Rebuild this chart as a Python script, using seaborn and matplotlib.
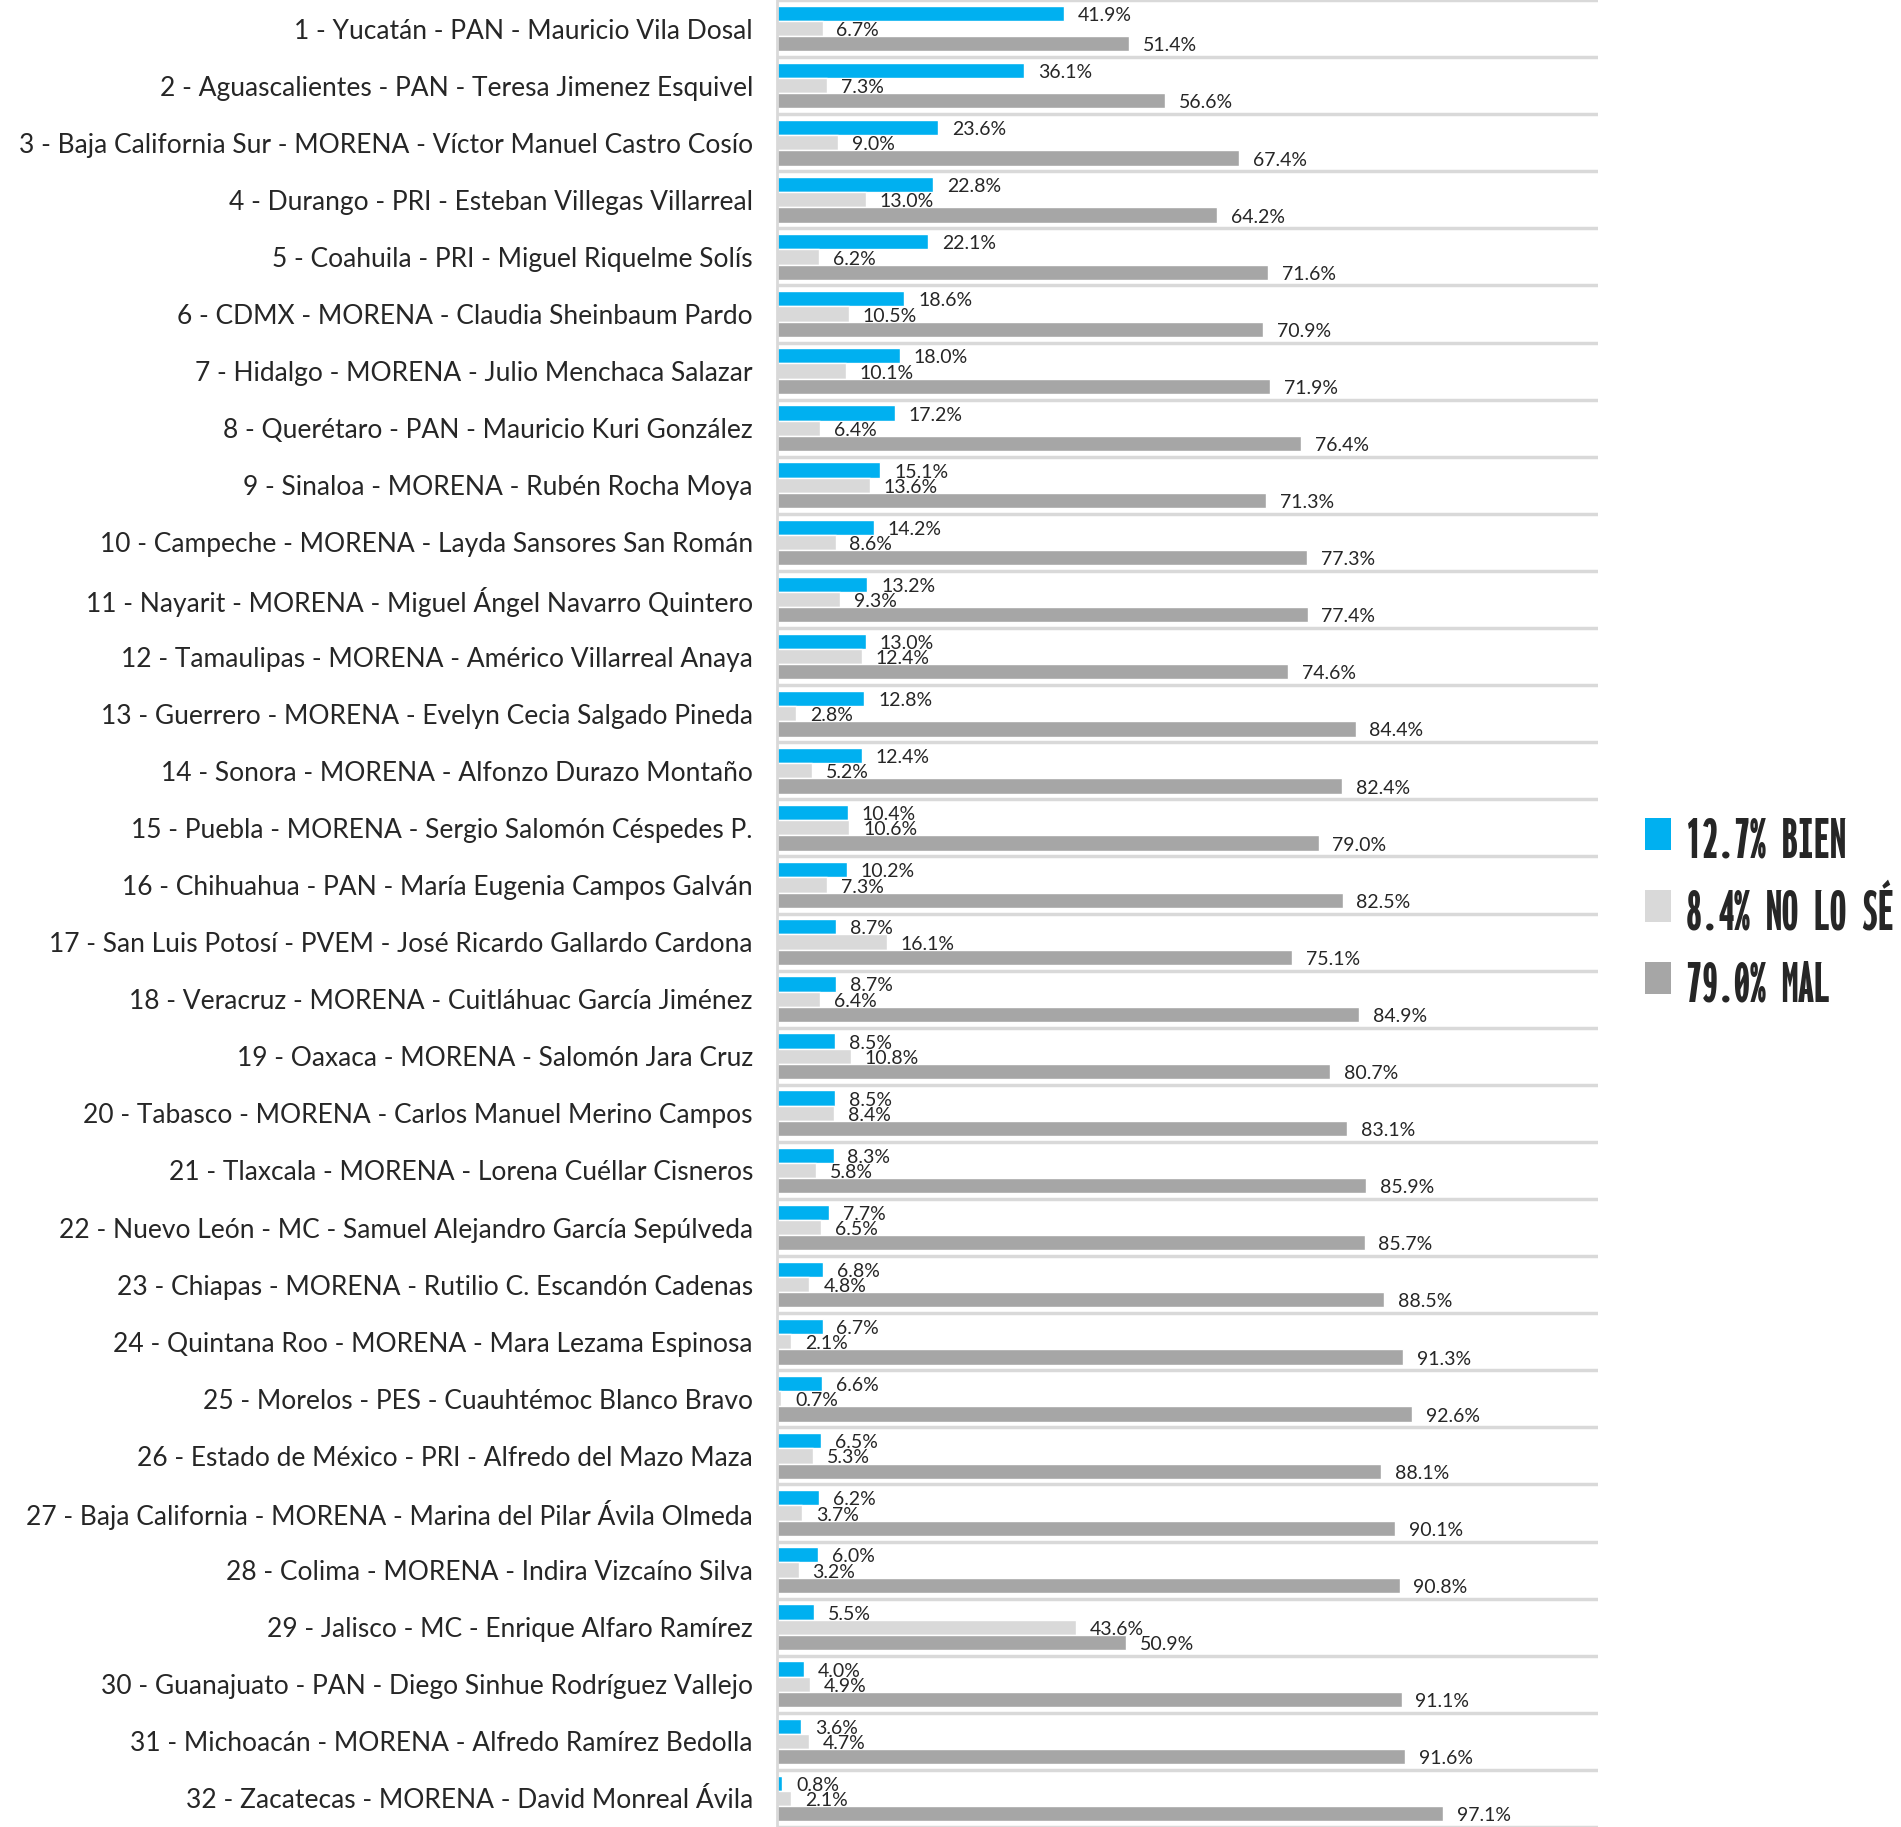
import numpy as np
import pandas as pd
import matplotlib
matplotlib.use("Agg")
import matplotlib.pyplot as plt
from matplotlib.patches import Patch
from matplotlib import font_manager
from matplotlib.font_manager import FontProperties
from matplotlib.ft2font import FT2Font
import seaborn as sb

# gobernadores: bien / no lo se / mal
estados = [
    "1 - Yucatán - PAN - Mauricio Vila Dosal",
    "2 - Aguascalientes - PAN - Teresa Jimenez Esquivel",
    "3 - Baja California Sur - MORENA - Víctor Manuel Castro Cosío",
    "4 - Durango - PRI - Esteban Villegas Villarreal",
    "5 - Coahuila - PRI - Miguel Riquelme Solís",
    "6 - CDMX - MORENA - Claudia Sheinbaum Pardo",
    "7 - Hidalgo - MORENA - Julio Menchaca Salazar",
    "8 - Querétaro - PAN - Mauricio Kuri González",
    "9 - Sinaloa - MORENA - Rubén Rocha Moya",
    "10 - Campeche - MORENA - Layda Sansores San Román",
    "11 - Nayarit - MORENA - Miguel Ángel Navarro Quintero",
    "12 - Tamaulipas - MORENA - Américo Villarreal Anaya",
    "13 - Guerrero - MORENA - Evelyn Cecia Salgado Pineda",
    "14 - Sonora - MORENA - Alfonzo Durazo Montaño",
    "15 - Puebla - MORENA - Sergio Salomón Céspedes P.",
    "16 - Chihuahua - PAN - María Eugenia Campos Galván",
    "17 - San Luis Potosí - PVEM - José Ricardo Gallardo Cardona",
    "18 - Veracruz - MORENA - Cuitláhuac García Jiménez",
    "19 - Oaxaca - MORENA - Salomón Jara Cruz",
    "20 - Tabasco - MORENA - Carlos Manuel Merino Campos",
    "21 - Tlaxcala - MORENA - Lorena Cuéllar Cisneros",
    "22 - Nuevo León - MC - Samuel Alejandro García Sepúlveda",
    "23 - Chiapas - MORENA - Rutilio C. Escandón Cadenas",
    "24 - Quintana Roo - MORENA - Mara Lezama Espinosa",
    "25 - Morelos - PES - Cuauhtémoc Blanco Bravo",
    "26 - Estado de México - PRI - Alfredo del Mazo Maza",
    "27 - Baja California - MORENA - Marina del Pilar Ávila Olmeda",
    "28 - Colima - MORENA - Indira Vizcaíno Silva",
    "29 - Jalisco - MC - Enrique Alfaro Ramírez",
    "30 - Guanajuato - PAN - Diego Sinhue Rodríguez Vallejo",
    "31 - Michoacán - MORENA - Alfredo Ramírez Bedolla",
    "32 - Zacatecas - MORENA - David Monreal Ávila",
]
bien = [41.9, 36.1, 23.6, 22.8, 22.1, 18.6, 18.0, 17.2, 15.1, 14.2, 13.2, 13.0,
        12.8, 12.4, 10.4, 10.2, 8.7, 8.7, 8.5, 8.5, 8.3, 7.7, 6.8, 6.7,
        6.6, 6.5, 6.2, 6.0, 5.5, 4.0, 3.6, 0.8]
no_se = [6.7, 7.3, 9.0, 13.0, 6.2, 10.5, 10.1, 6.4, 13.6, 8.6, 9.3, 12.4,
         2.8, 5.2, 10.6, 7.3, 16.1, 6.4, 10.8, 8.4, 5.8, 6.5, 4.8, 2.1,
         0.7, 5.3, 3.7, 3.2, 43.6, 4.9, 4.7, 2.1]
mal = [51.4, 56.6, 67.4, 64.2, 71.6, 70.9, 71.9, 76.4, 71.3, 77.3, 77.4, 74.6,
       84.4, 82.4, 79.0, 82.5, 75.1, 84.9, 80.7, 83.1, 85.9, 85.7, 88.5, 91.3,
       92.6, 88.1, 90.1, 90.8, 50.9, 91.1, 91.6, 97.1]
series = ["BIEN", "NO LO SÉ", "MAL"]
legend_labels = ["12.7% BIEN", "8.4% NO LO SÉ", "79.0% MAL"]
colores = ["#00B0F0", "#D9D9D9", "#A6A6A6"]

df = pd.DataFrame({"estado": estados * 3,
                   "serie": np.repeat(series, len(estados)),
                   "valor": bien + no_se + mal})

sb.set_style("white")
plt.rcParams["font.family"] = ["Lato", "DejaVu Sans"]

fig = plt.figure(figsize=(19.01, 18.27), dpi=100)
ax = fig.add_axes([0.4085, 0.0, 0.432, 1.0])
renderer = fig.canvas.get_renderer()

# legend face: the narrowest bold latin face that has every glyph needed
widest = max(legend_labels, key=len)
needed = set("".join(legend_labels)) - {" "}
leg_file, best = None, 1e9
for f in font_manager.fontManager.ttflist:
    fn = f.fname.lower()
    if "italic" in fn or "oblique" in fn or "cjk" in fn or "math" in fn:
        continue
    if not ("bold" in fn or "black" in fn or "heavy" in fn):
        continue
    try:
        cmap = FT2Font(f.fname).get_charmap()
        if not all(ord(ch) in cmap for ch in needed):
            continue
        t = fig.text(0, 0, widest, fontproperties=FontProperties(fname=f.fname, size=30))
        w = t.get_window_extent(renderer).width
        t.remove()
    except Exception:
        continue
    if w < best:
        best, leg_file = w, f.fname

sb.barplot(data=df, y="estado", x="valor", hue="serie", order=estados,
           hue_order=series, palette=colores, orient="h", width=0.8,
           saturation=1, legend=False, ax=ax)

for c in ax.containers:
    for p in c.patches:
        w = p.get_width()
        yc = p.get_y() + p.get_height() / 2
        ax.annotate(f"{w:.1f}%", xy=(w, yc), xytext=(10, -1.5),
                    textcoords="offset points", va="center", ha="left",
                    fontsize=14)

for i in range(len(estados) + 1):
    ax.axhline(i - 0.5, color="#D9D9D9", lw=2.5, zorder=0)

ax.set_xlim(0, 119.7)
ax.set_ylim(len(estados) - 0.5, -0.5)
ax.set_xlabel("")
ax.set_ylabel("")
ax.set_xticks([])
ax.tick_params(axis="y", length=0, pad=17, labelsize=19)
for s in ["top", "right", "bottom"]:
    ax.spines[s].set_visible(False)
ax.spines["left"].set_color("#D9D9D9")
ax.spines["left"].set_linewidth(2)

# legend: shrink the font until it fits, then set the row pitch to ~72 px
handles = [Patch(facecolor=c, edgecolor="none") for c in colores]


def make_legend(size, spacing):
    em = size * 100 / 72
    if leg_file:
        prop = FontProperties(fname=leg_file, size=size)
    else:
        prop = FontProperties(family="DejaVu Sans", weight="bold", size=size)
    return fig.legend(handles, legend_labels, loc="center left",
                      bbox_to_anchor=(1645 / 1901, 1 - 913 / 1827), frameon=False,
                      handlelength=26 / em, handleheight=26 / em,
                      handletextpad=15 / em, labelspacing=spacing,
                      borderpad=0, borderaxespad=0, prop=prop)


size = 46
while True:
    leg = make_legend(size, 0.5)
    if leg.get_window_extent(renderer).x1 <= 1896 or size <= 12:
        break
    leg.remove()
    size -= 0.5

fig.canvas.draw()
em = size * 100 / 72
ys = [t.get_window_extent(renderer).y0 for t in leg.get_texts()]
pitch = (ys[0] - ys[-1]) / 2
leg.remove()
leg = make_legend(size, max(0.05, 0.5 + (72 - pitch) / em))

fig.savefig("out.png", dpi=100)
